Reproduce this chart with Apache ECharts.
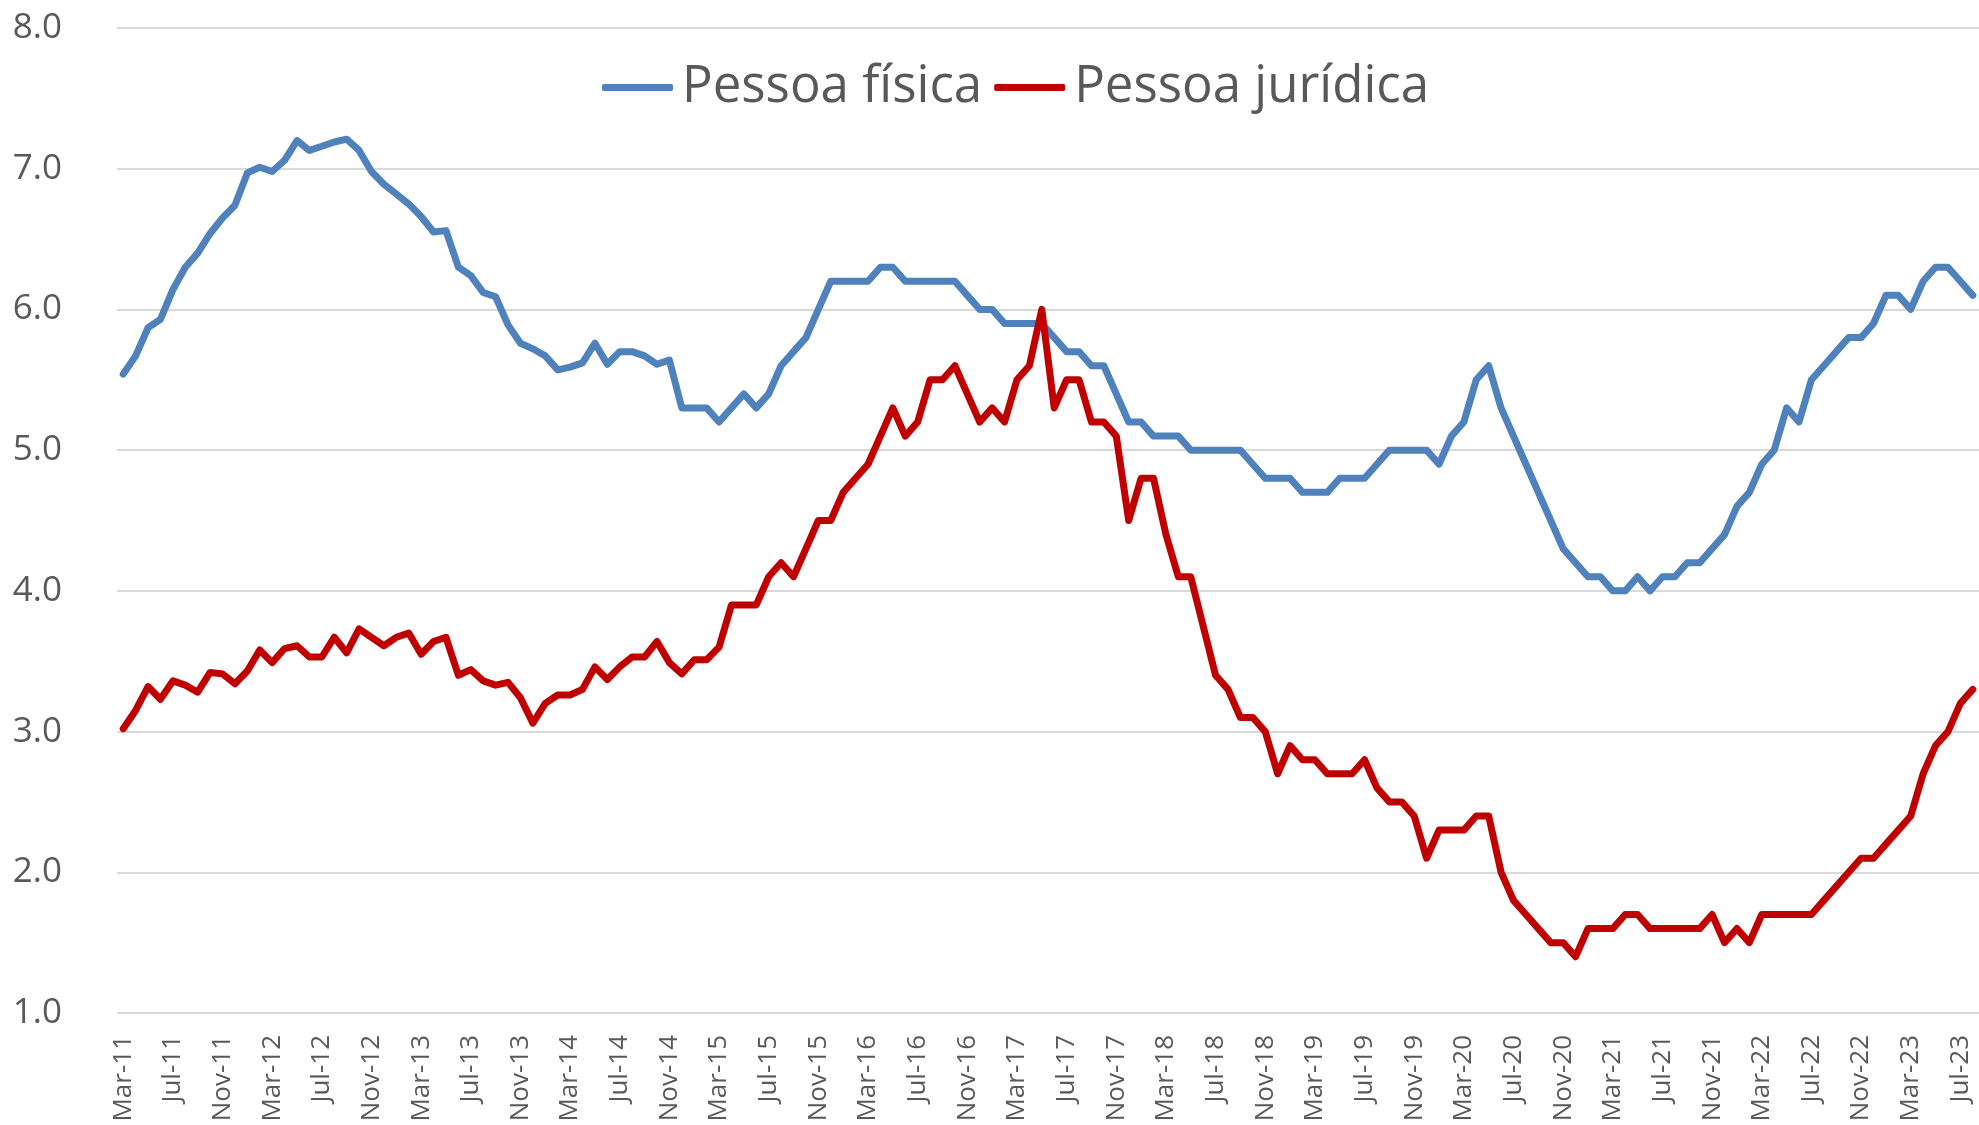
<!DOCTYPE html>
<html>
<head>
<meta charset="utf-8">
<title>Pessoa física x Pessoa jurídica</title>
<script src="https://cdn.jsdelivr.net/npm/echarts@6/dist/echarts.min.js"></script>
<style>
  html, body { margin: 0; padding: 0; background: #fff; }
  #chart { width: 1979px; height: 1125px; }
</style>
</head>
<body>
<div id="chart"></div>
<script>
// monthly series, Mar-11 .. Aug-23
const monthNames = ['Jan', 'Feb', 'Mar', 'Apr', 'May', 'Jun', 'Jul', 'Aug', 'Sep', 'Oct', 'Nov', 'Dec'];
const startYear = 2011, startMonth = 2, nMonths = 150;

const pessoaFisica = [
  5.54, 5.67, 5.87, 5.93, 6.14, 6.30, 6.40, 6.54, 6.65, 6.74,
  6.97, 7.01, 6.98, 7.06, 7.20, 7.13, 7.16, 7.19, 7.21, 7.13,
  6.98, 6.89, 6.82, 6.75, 6.66, 6.55, 6.56, 6.30, 6.24, 6.12,
  6.09, 5.89, 5.76, 5.72, 5.67, 5.57, 5.59, 5.62, 5.76, 5.61,
  5.70, 5.70, 5.67, 5.61, 5.64, 5.3, 5.3, 5.3, 5.2, 5.3,
  5.4, 5.3, 5.4, 5.6, 5.7, 5.8, 6.0, 6.2, 6.2, 6.2,
  6.2, 6.3, 6.3, 6.2, 6.2, 6.2, 6.2, 6.2, 6.1, 6.0,
  6.0, 5.9, 5.9, 5.9, 5.9, 5.8, 5.7, 5.7, 5.6, 5.6,
  5.4, 5.2, 5.2, 5.1, 5.1, 5.1, 5.0, 5.0, 5.0, 5.0,
  5.0, 4.9, 4.8, 4.8, 4.8, 4.7, 4.7, 4.7, 4.8, 4.8,
  4.8, 4.9, 5.0, 5.0, 5.0, 5.0, 4.9, 5.1, 5.2, 5.5,
  5.6, 5.3, 5.1, 4.9, 4.7, 4.5, 4.3, 4.2, 4.1, 4.1,
  4.0, 4.0, 4.1, 4.0, 4.1, 4.1, 4.2, 4.2, 4.3, 4.4,
  4.6, 4.7, 4.9, 5.0, 5.3, 5.2, 5.5, 5.6, 5.7, 5.8,
  5.8, 5.9, 6.1, 6.1, 6.0, 6.2, 6.3, 6.3, 6.2, 6.1
];

const pessoaJuridica = [
  3.02, 3.15, 3.32, 3.23, 3.36, 3.33, 3.28, 3.42, 3.41, 3.34,
  3.43, 3.58, 3.49, 3.59, 3.61, 3.53, 3.53, 3.67, 3.56, 3.73,
  3.67, 3.61, 3.67, 3.70, 3.55, 3.64, 3.67, 3.40, 3.44, 3.36,
  3.33, 3.35, 3.24, 3.06, 3.20, 3.26, 3.26, 3.30, 3.46, 3.37,
  3.46, 3.53, 3.53, 3.64, 3.49, 3.41, 3.51, 3.51, 3.60, 3.9,
  3.9, 3.9, 4.1, 4.2, 4.1, 4.3, 4.5, 4.5, 4.7, 4.8,
  4.9, 5.1, 5.3, 5.1, 5.2, 5.5, 5.5, 5.6, 5.4, 5.2,
  5.3, 5.2, 5.5, 5.6, 6.0, 5.3, 5.5, 5.5, 5.2, 5.2,
  5.1, 4.5, 4.8, 4.8, 4.4, 4.1, 4.1, 3.75, 3.4, 3.3,
  3.1, 3.1, 3.0, 2.7, 2.9, 2.8, 2.8, 2.7, 2.7, 2.7,
  2.8, 2.6, 2.5, 2.5, 2.4, 2.1, 2.3, 2.3, 2.3, 2.4,
  2.4, 2.0, 1.8, 1.7, 1.6, 1.5, 1.5, 1.4, 1.6, 1.6,
  1.6, 1.7, 1.7, 1.6, 1.6, 1.6, 1.6, 1.6, 1.7, 1.5,
  1.6, 1.5, 1.7, 1.7, 1.7, 1.7, 1.7, 1.8, 1.9, 2.0,
  2.1, 2.1, 2.2, 2.3, 2.4, 2.7, 2.9, 3.0, 3.2, 3.3
];

const seriesNames = ['Pessoa física', 'Pessoa jurídica'];
const seriesColors = ['#4F81BD', '#C00000'];

// Mar-11, Apr-11, ...
const months = [];
for (let k = 0; k < nMonths; k++) {
  const m = startMonth + k;
  const yy = startYear + Math.floor(m / 12);
  months.push(monthNames[m % 12] + '-' + String(yy).slice(2));
}

const textColor = '#595959';
const chart = echarts.init(document.getElementById('chart'));

const option = {
  animation: false,
  color: seriesColors,
  grid: {
    left: 117,
    right: 0,
    top: 28,
    bottom: 112,
    outerBoundsMode: 'none'
  },
  legend: {
    left: 597,
    top: 57,
    itemWidth: 71,
    itemHeight: 7,
    itemGap: 12,
    icon: 'roundRect',
    textStyle: {
      fontFamily: 'Open Sans',
      fontSize: 51,
      color: textColor,
      padding: [0, 0, 0, 4]
    },
    data: seriesNames
  },
  xAxis: {
    type: 'category',
    data: months,
    boundaryGap: true,
    axisLine: { show: false },
    axisTick: { show: false },
    axisLabel: {
      interval: 3,
      rotate: 90,
      margin: 22,
      color: textColor,
      fontFamily: 'Open Sans',
      fontSize: 26
    }
  },
  yAxis: {
    type: 'value',
    min: 1,
    max: 8,
    interval: 1,
    axisLine: { show: false },
    axisTick: { show: false },
    axisLabel: {
      margin: 55,
      color: textColor,
      fontFamily: 'Open Sans',
      fontSize: 35,
      formatter: (v) => v.toFixed(1)
    },
    splitLine: {
      lineStyle: { color: '#D9D9D9', width: 2 }
    }
  },
  series: [
    {
      name: seriesNames[0],
      type: 'line',
      data: pessoaFisica,
      symbol: 'none',
      lineStyle: { width: 7, color: seriesColors[0], cap: 'round', join: 'round' }
    },
    {
      name: seriesNames[1],
      type: 'line',
      data: pessoaJuridica,
      symbol: 'none',
      lineStyle: { width: 7, color: seriesColors[1], cap: 'round', join: 'round' }
    }
  ]
};

chart.setOption(option);
</script>
</body>
</html>
